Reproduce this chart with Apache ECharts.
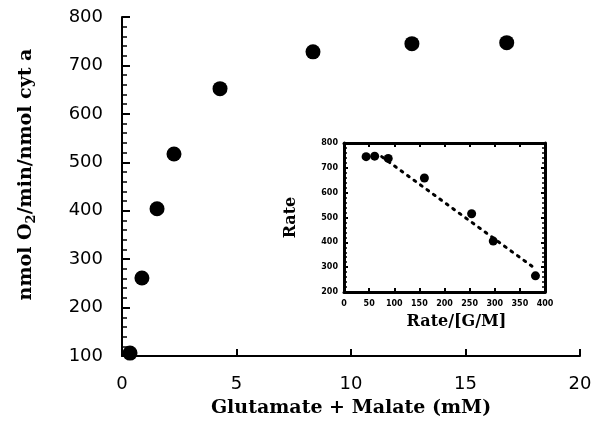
<!DOCTYPE html>
<html>
<head>
<meta charset="utf-8">
<script src="https://cdn.jsdelivr.net/npm/echarts@6/dist/echarts.min.js"></script>
<style>
  html, body { margin: 0; padding: 0; background: #fff; }
  #chart { width: 606px; height: 436px; }
</style>
</head>
<body>
<div id="chart"></div>
<script>
// main plot: rate vs substrate concentration
const conc = [0.35, 0.87, 1.53, 2.27, 4.28, 8.34, 12.66, 16.8];
const rate = [106, 261, 404, 517, 652, 728, 745, 747];

// inset: Eadie-Hofstee style plot
const insetX = [44, 61, 88, 160, 254, 297, 381];
const insetY = [745, 747, 738, 659, 515, 405, 265];
// dotted fit line end points
const fitX = [75, 378];
const fitY = [745, 298];

const mainTicksX = [0, 5, 10, 15, 20];
const mainTicksY = [100, 200, 300, 400, 500, 600, 700, 800];

const black = '#000';
const tickFont = { color: black, fontFamily: 'DejaVu Sans', fontSize: 18 };
const smallFont = { color: black, fontFamily: 'DejaVu Sans', fontSize: 8, fontWeight: 'bold' };
const serifBold = { color: black, fontFamily: 'DejaVu Serif', fontWeight: 'bold' };

let myChart = echarts.init(document.getElementById('chart'));
myChart.setOption({
    animation: false,
    backgroundColor: '#fff',
    grid: [
        { left: 122, right: 26, top: 17, bottom: 80 },
        { left: 344, right: 61, top: 143, bottom: 144 }
    ],
    xAxis: [
        {
            gridIndex: 0, type: 'value',
            min: mainTicksX[0], max: mainTicksX[mainTicksX.length - 1], interval: 5,
            name: 'Glutamate + Malate (mM)', nameLocation: 'middle', nameGap: 43,
            nameTextStyle: { ...serifBold, fontSize: 19 },
            axisLine: { lineStyle: { color: black, width: 2 } },
            axisTick: { inside: true, length: 7, lineStyle: { color: black, width: 2 } },
            axisLabel: { ...tickFont, margin: 19 },
            splitLine: { show: false }
        },
        {
            gridIndex: 1, type: 'value', min: 0, max: 400, interval: 50,
            name: 'Rate/[G/M]', nameLocation: 'middle', nameGap: 22,
            nameTextStyle: { ...serifBold, fontSize: 16, padding: [0, 0, 0, 24] },
            axisLine: { onZero: false, lineStyle: { color: black, width: 3 } },
            axisTick: { inside: true, length: 4, lineStyle: { color: black, width: 2 } },
            axisLabel: { ...smallFont, margin: 8 },
            splitLine: { show: false }
        },
        {
            gridIndex: 1, type: 'value', min: 0, max: 400, interval: 50, position: 'top',
            axisLine: { onZero: false, lineStyle: { color: black, width: 3 } },
            axisTick: { inside: true, length: 4, lineStyle: { color: black, width: 2 } },
            axisLabel: { show: false },
            splitLine: { show: false }
        }
    ],
    yAxis: [
        {
            gridIndex: 0, type: 'value',
            min: mainTicksY[0], max: mainTicksY[mainTicksY.length - 1], interval: 100,
            name: '{a|nmol O}{s|2}{a|/min/nmol cyt a}', nameLocation: 'middle', nameGap: 84,
            nameTextStyle: {
                ...serifBold,
                padding: [0, 0, 0, 24],
                rich: {
                    a: { ...serifBold, fontSize: 19 },
                    s: { ...serifBold, fontSize: 13, padding: [10, 0, 0, 0] }
                }
            },
            axisLine: { lineStyle: { color: black, width: 2 } },
            axisTick: { inside: true, length: 8, lineStyle: { color: black, width: 2 } },
            minorTick: { show: true, splitNumber: 5, length: 5, lineStyle: { color: black, width: 1.5 } },
            axisLabel: { ...tickFont, margin: 19 },
            splitLine: { show: false }
        },
        {
            gridIndex: 1, type: 'value', min: 200, max: 800, interval: 100,
            name: 'Rate', nameLocation: 'middle', nameGap: 45,
            nameTextStyle: { ...serifBold, fontSize: 16 },
            axisLine: { onZero: false, lineStyle: { color: black, width: 3 } },
            axisTick: { inside: true, length: 4, lineStyle: { color: black, width: 2 } },
            minorTick: { show: true, splitNumber: 5, length: 3, lineStyle: { color: black, width: 1.5 } },
            axisLabel: { ...smallFont, margin: 6 },
            splitLine: { show: false }
        },
        {
            gridIndex: 1, type: 'value', min: 200, max: 800, interval: 100, position: 'right',
            axisLine: { onZero: false, lineStyle: { color: black, width: 3 } },
            axisTick: { inside: true, length: 4, lineStyle: { color: black, width: 2 } },
            minorTick: { show: true, splitNumber: 5, length: 3, lineStyle: { color: black, width: 1.5 } },
            axisLabel: { show: false },
            splitLine: { show: false }
        }
    ],
    series: [
        {
            type: 'scatter', xAxisIndex: 0, yAxisIndex: 0,
            data: conc.map((c, i) => [c, rate[i]]),
            symbol: 'circle', symbolSize: 15,
            itemStyle: { color: black, opacity: 1 }
        },
        {
            type: 'line', xAxisIndex: 1, yAxisIndex: 1,
            data: fitX.map((x, i) => [x, fitY[i]]),
            symbol: 'none',
            lineStyle: { color: black, width: 3, type: [2, 6], cap: 'round' },
            z: 3
        },
        {
            type: 'scatter', xAxisIndex: 1, yAxisIndex: 1,
            data: insetX.map((x, i) => [x, insetY[i]]),
            symbol: 'circle', symbolSize: 9,
            itemStyle: { color: black, opacity: 1 },
            z: 4
        }
    ]
});
</script>
</body>
</html>
